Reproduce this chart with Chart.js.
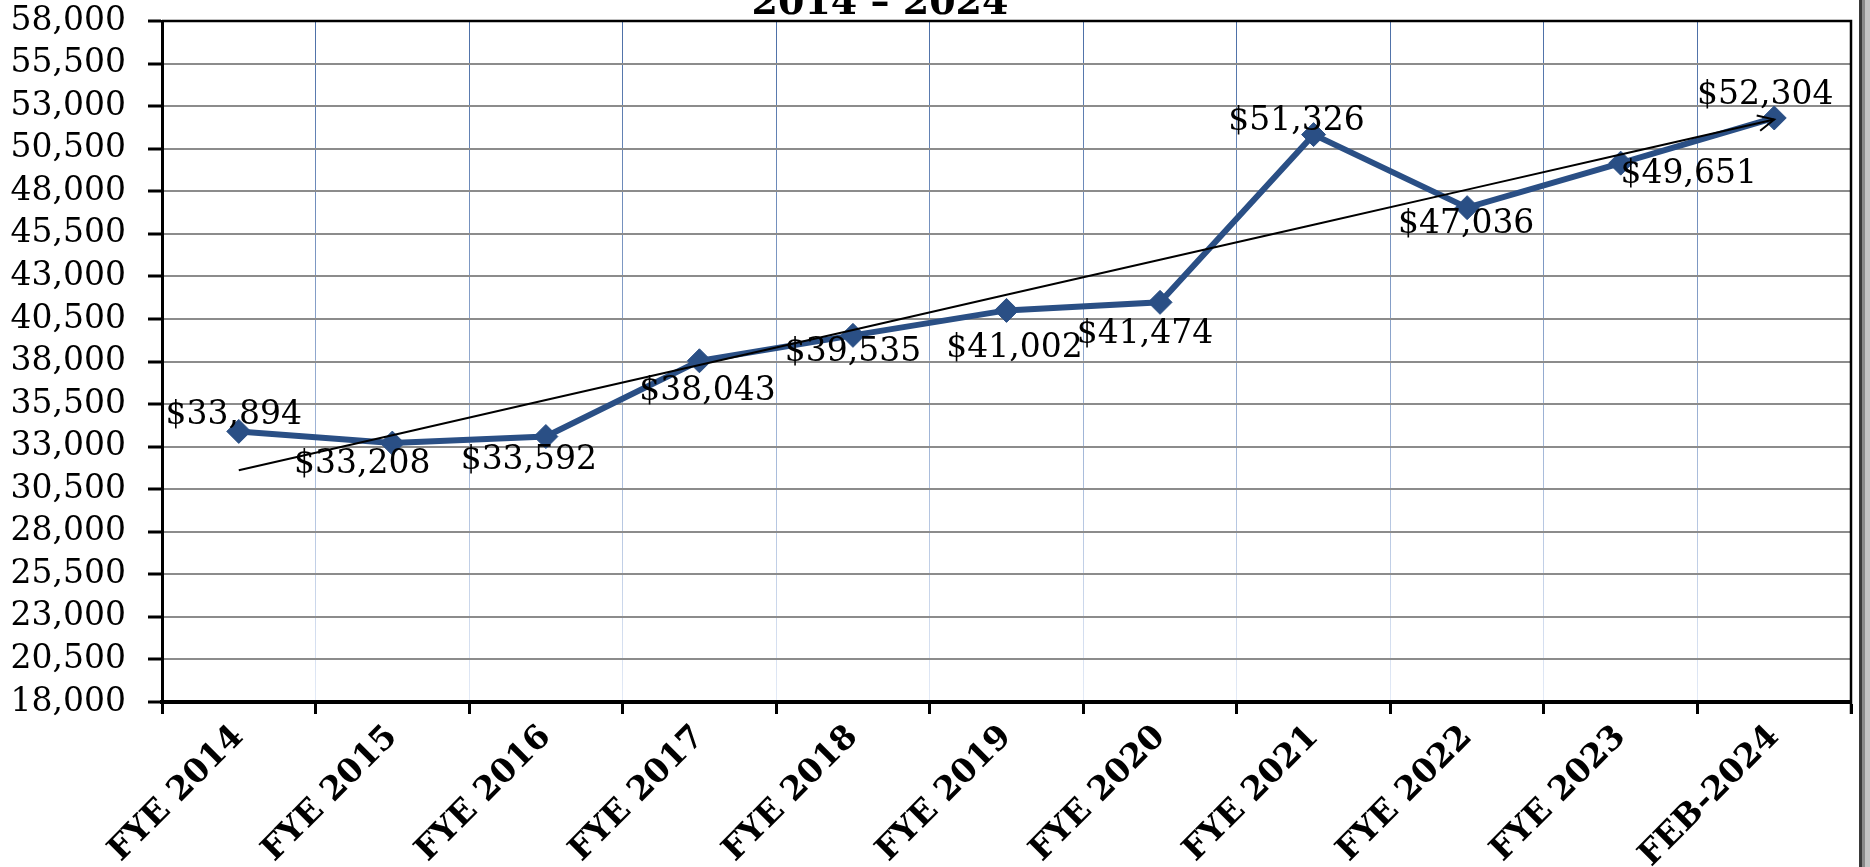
<!DOCTYPE html>
<html>
<head>
<meta charset="utf-8">
<script src="https://cdn.jsdelivr.net/npm/chart.js@4"></script>
<style>
  html, body { margin: 0; padding: 0; background: #fff; }
  #wrap { width: 1870px; height: 867px; position: relative; overflow: hidden; }
</style>
</head>
<body>
<div id="wrap"><canvas id="salaryChart" width="1870" height="867"></canvas></div>
<script>
// chart data
const categories = ['FYE 2014', 'FYE 2015', 'FYE 2016', 'FYE 2017', 'FYE 2018', 'FYE 2019',
                    'FYE 2020', 'FYE 2021', 'FYE 2022', 'FYE 2023', 'FEB-2024'];
const values = [33894, 33208, 33592, 38043, 39535, 41002, 41474, 51326, 47036, 49651, 52304];
const yMin = 18000;
const yMax = 58000;
const yStep = 2500;
const titleText = '2014 \u2013 2024';

// least squares trendline, same as the spreadsheet's linear trend
const n = values.length;
const meanX = (n - 1) / 2;
const meanY = values.reduce((a, b) => a + b, 0) / n;
let sxy = 0, sxx = 0;
values.forEach((v, i) => { sxy += (i - meanX) * (v - meanY); sxx += (i - meanX) * (i - meanX); });
const slope = sxy / sxx;
const trend = values.map((v, i) => meanY + slope * (i - meanX));

// where each value label sits relative to its point (px)
const labelOffsets = [[-5, -16], [-30, 21], [-17, 24], [8, 31], [0, 17], [8, 38],
                      [-15, 32], [-17, -13], [-1, 17], [68, 11], [-9, -23]];

const serif = '"DejaVu Serif", "Liberation Serif", serif';
const lineBlue = '#2a4f85';

const money = v => '$' + v.toLocaleString('en-US');

const extrasPlugin = {
    id: 'extras',
    afterDatasetsDraw(chart) {
        const ctx = chart.ctx;

        // arrow head on the trendline
        const tpts = chart.getDatasetMeta(1).data;
        const a = tpts[tpts.length - 2], b = tpts[tpts.length - 1];
        const ang = Math.atan2(b.y - a.y, b.x - a.x);
        ctx.save();
        ctx.strokeStyle = '#000';
        ctx.lineWidth = 2;
        ctx.beginPath();
        ctx.moveTo(b.x - 18 * Math.cos(ang - 0.45), b.y - 18 * Math.sin(ang - 0.45));
        ctx.lineTo(b.x, b.y);
        ctx.lineTo(b.x - 18 * Math.cos(ang + 0.45), b.y - 18 * Math.sin(ang + 0.45));
        ctx.stroke();
        ctx.restore();

        // value labels
        const pts = chart.getDatasetMeta(0).data;
        ctx.save();
        ctx.font = '33px ' + serif;
        ctx.fillStyle = '#000';
        ctx.textAlign = 'center';
        ctx.textBaseline = 'middle';
        pts.forEach((p, i) => {
            ctx.fillText(money(values[i]), p.x + labelOffsets[i][0], p.y + labelOffsets[i][1]);
        });
        ctx.restore();
    },
    afterDraw(chart) {
        const ctx = chart.ctx;
        const area = chart.chartArea;
        ctx.save();
        // top and right border of the plot
        ctx.strokeStyle = '#000';
        ctx.lineWidth = 2.5;
        ctx.beginPath();
        ctx.moveTo(area.left, area.top);
        ctx.lineTo(area.right, area.top);
        ctx.lineTo(area.right, area.bottom + 12);
        ctx.stroke();
        // frame shadow on the right edge
        ctx.fillStyle = '#3a3a3a';
        ctx.fillRect(1859, 0, 3, chart.height);
        ctx.fillStyle = '#8a8a8a';
        ctx.fillRect(1862, 0, 3, chart.height);
        ctx.fillStyle = '#c4c4c4';
        ctx.fillRect(1865, 0, 5, chart.height);
        // title, mostly cut off at the top
        ctx.font = 'bold 38px ' + serif;
        ctx.fillStyle = '#000';
        ctx.textAlign = 'center';
        ctx.textBaseline = 'alphabetic';
        ctx.fillText(titleText, 880, 14);
        ctx.restore();
    }
};

const ctx = document.getElementById('salaryChart').getContext('2d');
new Chart(ctx, {
    type: 'line',
    data: {
        labels: categories,
        datasets: [{
            label: 'Average',
            data: values,
            borderColor: lineBlue,
            backgroundColor: lineBlue,
            borderWidth: 6,
            pointStyle: 'rectRot',
            pointRadius: 12,
            pointBackgroundColor: lineBlue,
            pointBorderColor: lineBlue,
            pointBorderWidth: 1,
            tension: 0,
            order: 2
        }, {
            label: 'Trend',
            data: trend,
            borderColor: '#000',
            borderWidth: 2,
            pointRadius: 0,
            tension: 0,
            order: 1
        }]
    },
    options: {
        responsive: false,
        devicePixelRatio: 1,
        animation: false,
        layout: { padding: { top: 21, right: 19, left: 0, bottom: 0 } },
        plugins: {
            legend: { display: false },
            tooltip: { enabled: false },
            title: { display: false }
        },
        scales: {
            x: {
                offset: true,
                afterFit(scale) {
                    scale.height = 165;
                    scale.paddingLeft = 0;
                    scale.paddingRight = 0;
                },
                grid: {
                    offset: true,
                    lineWidth: 1,
                    color(c) {
                        const area = c.chart.chartArea;
                        if (!area) return '#8fa6c8';
                        const g = c.chart.ctx.createLinearGradient(0, area.top, 0, area.bottom);
                        g.addColorStop(0, '#4b6ea6');
                        g.addColorStop(0.6, '#9fb4d6');
                        g.addColorStop(1, '#e4ebf7');
                        return g;
                    },
                    tickColor: '#000',
                    tickLength: 12,
                    tickWidth: 3
                },
                border: { color: '#000', width: 4 },
                ticks: {
                    autoSkip: false,
                    minRotation: 45,
                    maxRotation: 45,
                    padding: 4,
                    color: '#000',
                    font: { family: serif, size: 33, weight: 'bold' }
                }
            },
            y: {
                min: yMin,
                max: yMax,
                afterFit(scale) {
                    scale.width = 162;
                    scale.paddingTop = 0;
                    scale.paddingBottom = 0;
                },
                grid: {
                    color: '#8c8c8c',
                    lineWidth: 2,
                    tickColor: '#000',
                    tickLength: 14,
                    tickWidth: 3
                },
                border: { color: '#000', width: 3 },
                ticks: {
                    autoSkip: false,
                    stepSize: yStep,
                    padding: 22,
                    color: '#000',
                    font: { family: serif, size: 33 },
                    callback: v => v.toLocaleString('en-US')
                }
            }
        }
    },
    plugins: [extrasPlugin]
});
</script>
</body>
</html>
